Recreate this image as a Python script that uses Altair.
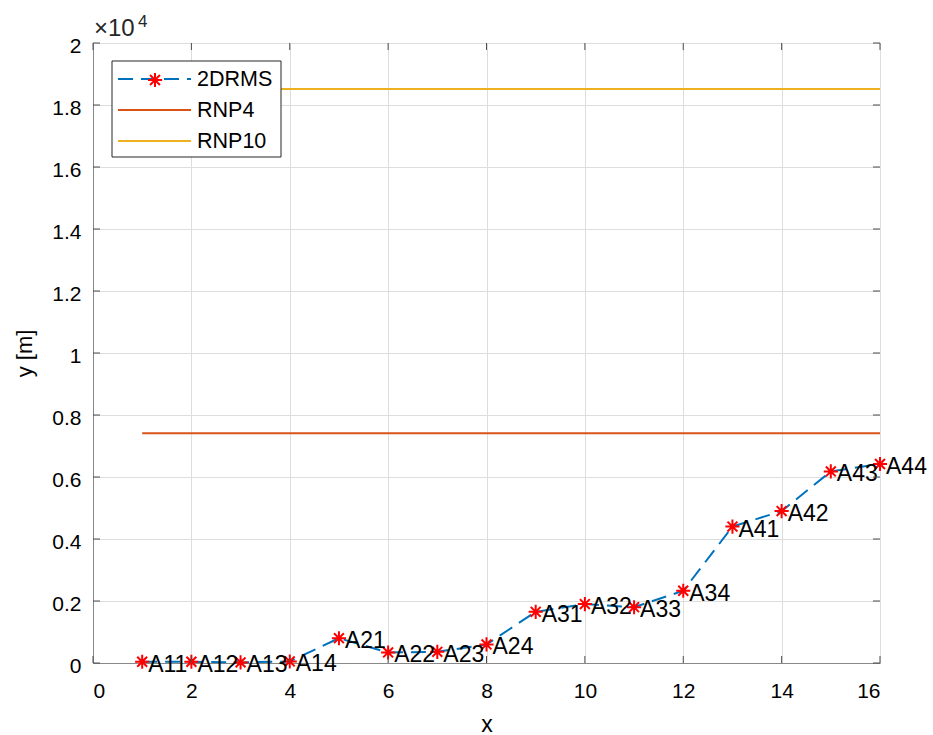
import altair as alt
import pandas as pd

# ---- data ----
x_vals = [1, 2, 3, 4, 5, 6, 7, 8, 9, 10, 11, 12, 13, 14, 15, 16]
labels = ["A11", "A12", "A13", "A14", "A21", "A22", "A23", "A24",
          "A31", "A32", "A33", "A34", "A41", "A42", "A43", "A44"]
drms = [40, 40, 20, 50, 800, 340, 360, 600,
        1650, 1900, 1800, 2330, 4400, 4900, 6180, 6420]
rnp4 = 7408
rnp10 = 18520
line_x = [1, 16]
series_names = ["2DRMS", "RNP4", "RNP10"]
series_colors = ["#0072BD", "#D95319", "#EDB120"]
x_ticks = [0, 2, 4, 6, 8, 10, 12, 14, 16]
y_ticks = [0, 2000, 4000, 6000, 8000, 10000, 12000, 14000, 16000, 18000, 20000]

W, H = 787, 620
FONT = "Liberation Sans"
AX = "#4d4d4d"
DASH = [15, 8]
dash_map = {"2DRMS": DASH, "RNP4": [1, 0], "RNP10": [1, 0]}

rows = []
for xv, yv in zip(x_vals, drms):
    rows.append({"x": xv, "y": yv, "series": "2DRMS"})
for xv in line_x:
    rows.append({"x": xv, "y": rnp4, "series": "RNP4"})
for xv in line_x:
    rows.append({"x": xv, "y": rnp10, "series": "RNP10"})
lines_df = pd.DataFrame(rows)
pts_df = pd.DataFrame({"x": x_vals, "y": drms, "label": labels})

xscale = alt.Scale(domain=[0, 16], nice=False, zero=False)
yscale = alt.Scale(domain=[0, 20000], nice=False)

xaxis = alt.Axis(values=x_ticks, title="x", grid=True, ticks=False,
                 labelFontSize=21, titleFontSize=23, labelPadding=17,
                 titlePadding=12, titleFontWeight="normal")
yaxis = alt.Axis(values=y_ticks, title="y [m]", grid=True, ticks=False,
                 labelFontSize=21, titleFontSize=22, labelPadding=12,
                 titlePadding=15, titleFontWeight="normal", labelOffset=3,
                 labelExpr="format(datum.value/10000, '.1~f')")

lines = alt.Chart(lines_df).mark_line(strokeWidth=2).encode(
    x=alt.X("x:Q", scale=xscale, axis=xaxis),
    y=alt.Y("y:Q", scale=yscale, axis=yaxis),
    color=alt.Color("series:N",
                    scale=alt.Scale(domain=series_names, range=series_colors),
                    legend=None),
    strokeDash=alt.StrokeDash("series:N",
                              scale=alt.Scale(domain=series_names,
                                              range=[dash_map[s] for s in series_names]),
                              legend=None),
    detail="series:N",
)

AST = "M0,-1L0,1M-1,0L1,0M-0.7,-0.7L0.7,0.7M-0.7,0.7L0.7,-0.7"

points = alt.Chart(pts_df).mark_point(shape=AST, filled=False, color="#FF0000",
                                      strokeWidth=2, size=200, opacity=1).encode(
    x=alt.X("x:Q", scale=xscale), y=alt.Y("y:Q", scale=yscale))

texts = alt.Chart(pts_df).mark_text(align="left", baseline="middle", dx=6, dy=3,
                                    fontSize=23, font=FONT, color="#000000").encode(
    x=alt.X("x:Q", scale=xscale), y=alt.Y("y:Q", scale=yscale), text="label:N")

yt_df = pd.DataFrame({"y": y_ticks})
xt_df = pd.DataFrame({"x": x_ticks})
yt_left = alt.Chart(yt_df).mark_rule(color=AX, strokeWidth=1).encode(
    y=alt.Y("y:Q", scale=yscale), x=alt.value(0), x2=alt.value(7))
yt_right = alt.Chart(yt_df).mark_rule(color=AX, strokeWidth=1).encode(
    y=alt.Y("y:Q", scale=yscale), x=alt.value(W - 7), x2=alt.value(W))
xt_bot = alt.Chart(xt_df).mark_rule(color=AX, strokeWidth=1).encode(
    x=alt.X("x:Q", scale=xscale), y=alt.value(H), y2=alt.value(H - 7))
xt_top = alt.Chart(xt_df).mark_rule(color=AX, strokeWidth=1).encode(
    x=alt.X("x:Q", scale=xscale), y=alt.value(0), y2=alt.value(7))

# ---- legend (drawn as marks so the red asterisk can sit on the 2DRMS entry) ----
one = pd.DataFrame({"a": [0]})
leg_layers = [
    alt.Chart(one).mark_rect(fill="#ffffff", stroke="#262626", strokeWidth=1).encode(
        x=alt.value(19), x2=alt.value(188), y=alt.value(18), y2=alt.value(114))
]
LEG_Y = [36, 67, 98]
for name, col, ly in zip(series_names, series_colors, LEG_Y):
    leg_layers.append(
        alt.Chart(one).mark_rule(color=col, strokeWidth=2, strokeDash=dash_map[name]).encode(
            x=alt.value(25), x2=alt.value(98), y=alt.value(ly)))
    leg_layers.append(
        alt.Chart(pd.DataFrame({"t": [name]})).mark_text(
            align="left", baseline="middle", fontSize=21.5, font=FONT, color="#000000",
            dy=1).encode(x=alt.value(104), y=alt.value(ly), text="t:N"))
leg_layers.append(
    alt.Chart(one).mark_point(shape=AST, filled=False, color="#FF0000", strokeWidth=2,
                              size=200, opacity=1).encode(x=alt.value(62), y=alt.value(37)))

mult = alt.Chart(pd.DataFrame({"t": ["×10"]})).mark_text(
    align="left", baseline="alphabetic", fontSize=24, font=FONT, color="#262626"
).encode(x=alt.value(1), y=alt.value(-7), text="t:N")
expo = alt.Chart(pd.DataFrame({"t": ["4"]})).mark_text(
    align="left", baseline="alphabetic", fontSize=17, font=FONT, color="#262626"
).encode(x=alt.value(45), y=alt.value(-16), text="t:N")

chart = alt.layer(lines, points, texts, yt_left, yt_right, xt_bot, xt_top,
                  *leg_layers, mult, expo).properties(
    width=W, height=H,
    autosize=alt.AutoSizeParams(type="none"),
    padding={"left": 93, "top": 43, "right": 53, "bottom": 72},
).configure_view(stroke=AX, strokeWidth=1.2).configure_axis(
    domainColor=AX, labelColor="#262626", titleColor="#262626",
    gridColor="#e0e0e0", gridWidth=1, labelFont=FONT, titleFont=FONT,
).configure(background="white")

chart.save("out.html", embed_options={"renderer": "svg", "actions": False})
